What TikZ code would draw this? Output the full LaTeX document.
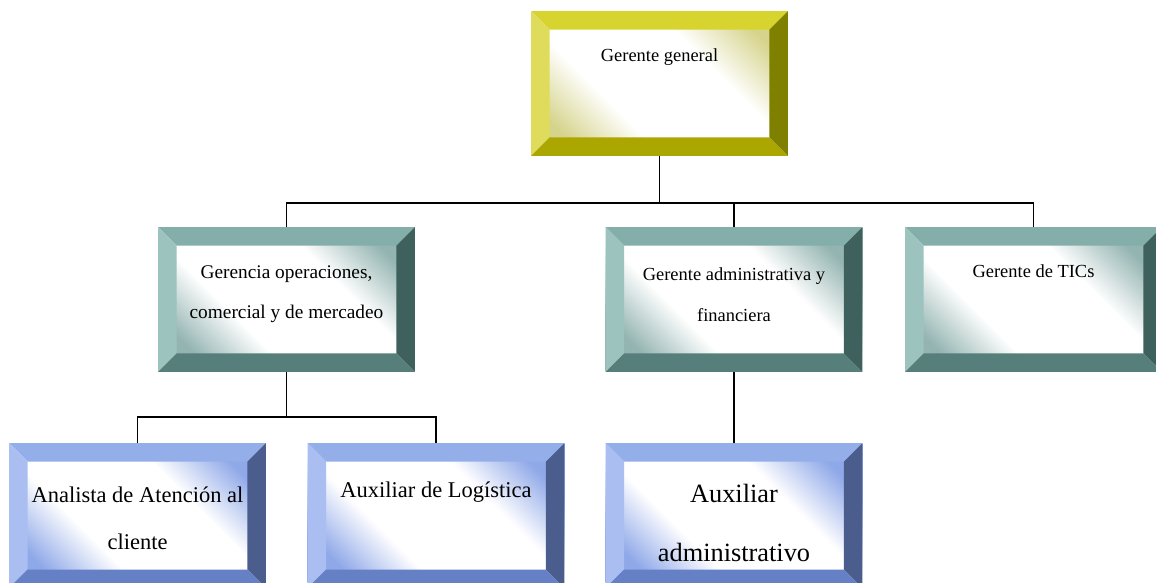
\documentclass[tikz,border=0pt]{standalone}
\usepackage{fontspec}
\setmainfont{Liberation Serif}

% Colores de los biseles
\definecolor{oroT}{HTML}{D7D42F}
\definecolor{oroL}{HTML}{DFDC5C}
\definecolor{oroR}{HTML}{7F7F00}
\definecolor{oroB}{HTML}{ABA600}
\definecolor{oroC}{HTML}{D6D48C}
\definecolor{verT}{HTML}{83AEAA}
\definecolor{verL}{HTML}{9DC3BF}
\definecolor{verR}{HTML}{3F615E}
\definecolor{verB}{HTML}{567E7A}
\definecolor{verC}{HTML}{93B4B1}
\definecolor{azuT}{HTML}{94AEEA}
\definecolor{azuL}{HTML}{AABEF1}
\definecolor{azuR}{HTML}{4B5D8C}
\definecolor{azuB}{HTML}{6680C6}
\definecolor{azuC}{HTML}{8FA8E8}
\colorlet{tinte}{white}

% Centro claro con esquinas teñidas
\pgfdeclarehorizontalshading[tinte]{centroclaro}{100bp}{color(0bp)=(tinte);
  color(24bp)=(tinte); color(38bp)=(white); color(62bp)=(white);
  color(76bp)=(tinte); color(100bp)=(tinte)}

% Marco biselado: superior, izquierda, derecha, inferior
\newcommand{\biselado}[4]{%
  \coordinate (NO) at (path picture bounding box.north west);
  \coordinate (NE) at (path picture bounding box.north east);
  \coordinate (SE) at (path picture bounding box.south east);
  \coordinate (SO) at (path picture bounding box.south west);
  \coordinate (no) at ([shift={(.37cm,-.37cm)}]NO);
  \coordinate (ne) at ([shift={(-.37cm,-.37cm)}]NE);
  \coordinate (se) at ([shift={(-.37cm,.37cm)}]SE);
  \coordinate (so) at ([shift={(.37cm,.37cm)}]SO);
  \fill[#1] (NO) -- (NE) -- (ne) -- (no) -- cycle;
  \fill[#2] (NO) -- (no) -- (so) -- (SO) -- cycle;
  \fill[#3] (NE) -- (SE) -- (se) -- (ne) -- cycle;
  \fill[#4] (SO) -- (so) -- (se) -- (SE) -- cycle;
}

\tikzset{
  caja/.style={minimum width=5.14cm, minimum height=2.9cm, inner sep=0pt,
    shading=centroclaro, shading angle=45},
  oro/.style={caja, /utils/exec={\colorlet{tinte}{oroC}},
    path picture={\biselado{oroT}{oroL}{oroR}{oroB}}},
  verde/.style={caja, /utils/exec={\colorlet{tinte}{verC}},
    path picture={\biselado{verT}{verL}{verR}{verB}}},
  azul/.style={caja, /utils/exec={\colorlet{tinte}{azuC}},
    path picture={\biselado{azuT}{azuL}{azuR}{azuB}}},
  txtA/.style={font=\fontsize{10.5}{23.5}\selectfont, align=center, anchor=base},
  txtB/.style={font=\fontsize{12.8}{27}\selectfont, align=center, anchor=base},
  txtC/.style={font=\fontsize{15}{33.5}\selectfont, align=center, anchor=base},
  linea/.style={line width=1.1pt}
}

\begin{document}
\begin{tikzpicture}[x=0.02cm, y=-0.02cm]
    \useasboundingbox (0,0) rectangle (1156,582);
    \clip (0,0) rectangle (1156,582);

    % Cajas
    \node[oro] (gg) at (659.5,83.5) {};
    \node[verde] (ops) at (286.5,299.5) {};
    \node[verde] (adm) at (734,299.5) {};
    \node[verde] (tic) at (1033.5,299.5) {};
    \node[azul] (ana) at (137.5,515.5) {};
    \node[azul] (log) at (436,515.5) {};
    \node[azul] (aux) at (734,515.5) {};

    % Textos (la base es la de la última línea)
    \node[txtA] (gg-t) at ([yshift=-1.02cm]gg.north) {Gerente general};
    \node[txtA, font=\fontsize{11}{23}\selectfont] (ops-t) at ([yshift=-1.84cm]ops.north) {Gerencia operaciones,\\comercial y de mercadeo};
    \node[txtA] (adm-t) at ([yshift=-1.9cm]adm.north) {Gerente administrativa y\\financiera};
    \node[txtA] (tic-t) at ([yshift=-1.02cm]tic.north) {Gerente de TICs};
    \node[txtB] (ana-t) at ([yshift=-2.14cm]ana.north) {Analista de Atención al\\cliente};
    \node[txtB] (log-t) at ([yshift=-1.1cm]log.north) {Auxiliar de Logística};
    \node[txtC] (aux-t) at ([yshift=-2.38cm]aux.north) {Auxiliar\\administrativo};

    % Conectores
    \coordinate (barra1) at (0,203);
    \coordinate (barra2) at (0,417);
    \draw[linea] (gg.south) -- (gg.south |- barra1);
    \draw[linea] (ops.north) |- (tic.north |- barra1) -- (tic.north);
    \draw[linea] (adm.north) -- (adm.north |- barra1);
    \draw[linea] (ops.south) -- (ops.south |- barra2);
    \draw[linea] (ana.north) |- (log.north |- barra2) -- (log.north);
    \draw[linea] (adm.south) -- (aux.north);
\end{tikzpicture}
\end{document}
